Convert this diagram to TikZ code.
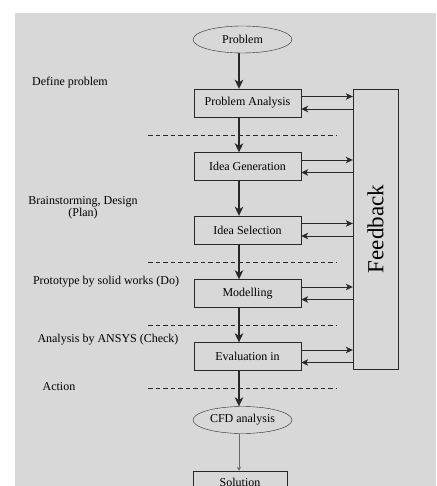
\documentclass[tikz,border=0pt]{standalone}
\usepackage{fontspec}
\usepackage{graphicx}
\setmainfont{Liberation Serif}
\usetikzlibrary{shapes.geometric,arrows.meta}
\definecolor{paper}{RGB}{216,216,216}
\definecolor{ink}{RGB}{40,40,40}

\begin{document}
\begin{tikzpicture}[x=1pt, y=-1pt,
    stage/.style ={rectangle, draw=ink, fill=paper, minimum width=107pt, minimum height=28pt, inner sep=0pt, font=\fontsize{12}{14}\selectfont},
    terminal/.style ={ellipse, draw=ink, fill=paper, minimum width=99pt, minimum height=27pt, inner sep=0pt, font=\fontsize{12}{14}\selectfont},
    phase/.style ={align=center, inner sep=0pt, font=\fontsize{12}{12}\selectfont},
    flow/.style ={ink, line width=1.2pt, -{Stealth[length=9pt,width=8.5pt,inset=2.5pt]}},
    loopback/.style ={ink, line width=0.9pt, -{Stealth[length=7pt,width=6.5pt,inset=2pt]}},
    divider/.style ={ink, line width=0.6pt, dash pattern=on 4.5pt off 3pt}]

   \useasboundingbox (0,0) rectangle (436,486);
   \clip (0,0) rectangle (436,486);
   \fill[paper] (15,13) rectangle (436,486);

   \coordinate (axis) at (239,0);

   \node[terminal] (prob) at (242.5,39.5)  {Problem};
   \node[stage] (pa)  at (247.5,103)  {Problem Analysis};
   \node[stage] (ig)  at (247.5,166.5)  {Idea Generation};
   \node[stage] (is)  at (247.5,230)  {Idea Selection};
   \node[stage] (mod)  at (247.5,293.5)  {Modelling};
   \node[stage] (ev)  at (247.5,356.5)  {Evaluation in};
   \node[terminal] (cfd) at (242.5,420)  {CFD analysis};
   \node[stage, minimum width=94pt, minimum height=22pt] (sol) at (240,482)  {Solution};
   \node[rectangle, draw=ink, fill=paper, minimum width=45pt, minimum height=280pt, inner sep=0pt,
         font=\fontsize{23}{26}\selectfont] (fbk) at (375.5,229) {\rotatebox{90}{Feedback}};

   \node[phase] (define)  at (70,83)  {Define problem};
   \node[phase] (plan)  at (83,207.5)  {Brainstorming, Design\\(Plan)};
   \node[phase] (do)  at (106,282)  {Prototype by solid works (Do)};
   \node[phase] (check)  at (108,340)  {Analysis by ANSYS (Check)};
   \node[phase] (act)  at (59,387)  {Action};

   \draw[divider] (148,135) -- (337,135);
   \draw[divider] (148,262) -- (337,262);
   \draw[divider] (148,325) -- (337,325);
   \draw[divider] (148,388) -- (337,388);

   \draw[flow] (prob.south -| axis) to (pa.north -| axis);
   \draw[flow] (pa.south -| axis) to (ig.north -| axis);
   \draw[flow] (ig.south -| axis) to (is.north -| axis);
   \draw[flow] (is.south -| axis) to (mod.north -| axis);
   \draw[flow] (mod.south -| axis) to (ev.north -| axis);
   \draw[flow] (ev.south -| axis) to (cfd.north -| axis);
   \draw[ink!70, line width=0.6pt, -{Stealth[length=4pt,width=4pt]}] (cfd.south -| axis) to (sol.north -| axis);

   \draw[loopback] ([yshift=6.5pt]pa.east) to ([yshift=6.5pt]pa.east -| fbk.west);
   \draw[loopback] ([yshift=-6pt]pa.east -| fbk.west) to ([yshift=-6pt]pa.east);
   \draw[loopback] ([yshift=6.5pt]ig.east) to ([yshift=6.5pt]ig.east -| fbk.west);
   \draw[loopback] ([yshift=-6pt]ig.east -| fbk.west) to ([yshift=-6pt]ig.east);
   \draw[loopback] ([yshift=6.5pt]is.east) to ([yshift=6.5pt]is.east -| fbk.west);
   \draw[loopback] ([yshift=-6pt]is.east -| fbk.west) to ([yshift=-6pt]is.east);
   \draw[loopback] ([yshift=6.5pt]mod.east) to ([yshift=6.5pt]mod.east -| fbk.west);
   \draw[loopback] ([yshift=-6pt]mod.east -| fbk.west) to ([yshift=-6pt]mod.east);
   \draw[loopback] ([yshift=6.5pt]ev.east) to ([yshift=6.5pt]ev.east -| fbk.west);
   \draw[loopback] ([yshift=-6pt]ev.east -| fbk.west) to ([yshift=-6pt]ev.east);

 \end{tikzpicture}
\end{document}
